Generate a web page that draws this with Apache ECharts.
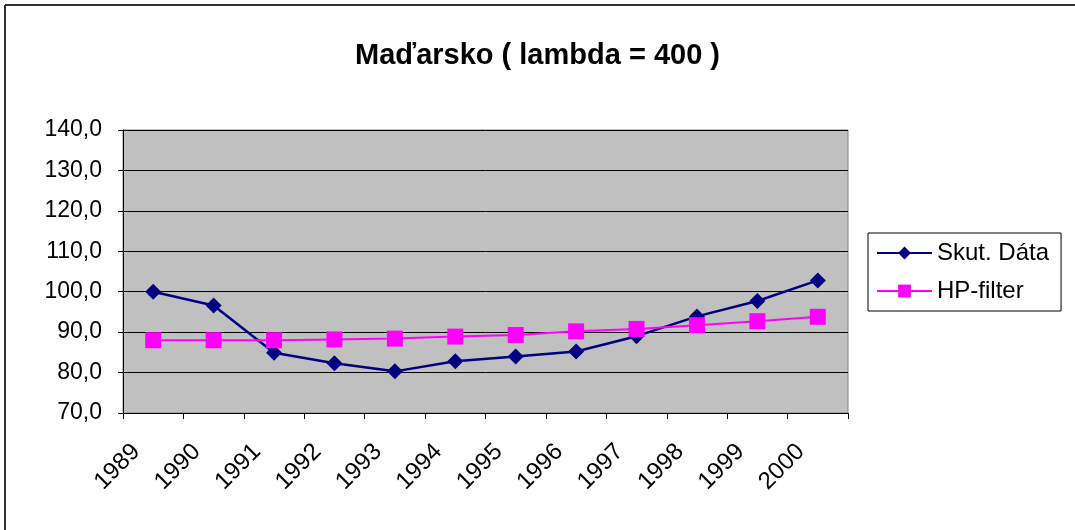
<!DOCTYPE html>
<html>
<head>
<meta charset="utf-8">
<script src="https://cdn.jsdelivr.net/npm/echarts@6/dist/echarts.min.js"></script>
<style>
  html, body { margin: 0; padding: 0; background: #fff; }
  #main { width: 1075px; height: 530px; }
</style>
</head>
<body>
<div id="main"></div>
<script>
// roky a hodnoty odčítané z grafu
var years = ['1989', '1990', '1991', '1992', '1993', '1994', '1995', '1996', '1997', '1998', '1999', '2000'];
var skutData = [100.0, 96.6, 84.9, 82.3, 80.3, 82.8, 84.0, 85.2, 89.0, 93.9, 97.7, 102.8];
var hpFilter = [88.0, 88.0, 88.0, 88.2, 88.4, 88.9, 89.3, 90.2, 90.8, 91.7, 92.7, 93.8];

var myChart = echarts.init(document.getElementById('main'));
var font = 'Arial, "Liberation Sans", sans-serif';

var option = {
    backgroundColor: '#fff',
    animation: false,
    title: {
        text: 'Maďarsko ( lambda = 400 )',
        left: 'center',
        top: 36,
        textStyle: { fontFamily: font, fontSize: 29, fontWeight: 'bold', color: '#000' }
    },
    // rámik grafu (vidno len hornú a ľavú hranu)
    graphic: [
        { type: 'line', shape: { x1: 5, y1: 5, x2: 1075, y2: 5 }, style: { stroke: '#333', lineWidth: 2 } },
        { type: 'line', shape: { x1: 5, y1: 5, x2: 5, y2: 530 }, style: { stroke: '#333', lineWidth: 2 } }
    ],
    legend: {
        orient: 'vertical',
        left: 868,
        top: 233,
        padding: [8, 12, 8, 8],
        itemWidth: 55,
        itemHeight: 16,
        itemGap: 14,
        borderColor: '#000',
        borderWidth: 1,
        textStyle: { fontFamily: font, fontSize: 24, color: '#000' },
        data: ['Skut. Dáta', 'HP-filter']
    },
    grid: {
        left: 123,
        top: 130,
        width: 725,
        height: 283,
        show: true,
        backgroundColor: '#c0c0c0',
        borderColor: '#808080',
        borderWidth: 1
    },
    xAxis: {
        type: 'category',
        data: years,
        boundaryGap: true,
        axisLine: { lineStyle: { color: '#000', width: 1 } },
        axisTick: { show: true, interval: 0, length: 6, lineStyle: { color: '#000' } },
        axisLabel: {
            interval: 0,
            rotate: 45,
            margin: 18,
            padding: [0, 24, 0, 0],
            fontFamily: font,
            fontSize: 24,
            color: '#000'
        }
    },
    yAxis: {
        type: 'value',
        min: 70,
        max: 140,
        interval: 10,
        axisLine: { show: true, lineStyle: { color: '#000', width: 1 } },
        axisTick: { show: true, length: 5, lineStyle: { color: '#000' } },
        splitLine: { lineStyle: { color: '#000', width: 1 } },
        axisLabel: {
            margin: 21,
            fontFamily: font,
            fontSize: 23,
            color: '#000',
            formatter: function (v) { return v.toFixed(1).replace('.', ','); }
        }
    },
    series: [{
        name: 'Skut. Dáta',
        type: 'line',
        data: skutData,
        symbol: 'diamond',
        symbolSize: 16,
        lineStyle: { color: '#000080', width: 2.5 },
        itemStyle: { color: '#000080' }
    }, {
        name: 'HP-filter',
        type: 'line',
        data: hpFilter,
        symbol: 'rect',
        symbolSize: 16,
        lineStyle: { color: '#ff00ff', width: 2 },
        itemStyle: { color: '#ff00ff' }
    }]
};
myChart.setOption(option);
</script>
</body>
</html>
